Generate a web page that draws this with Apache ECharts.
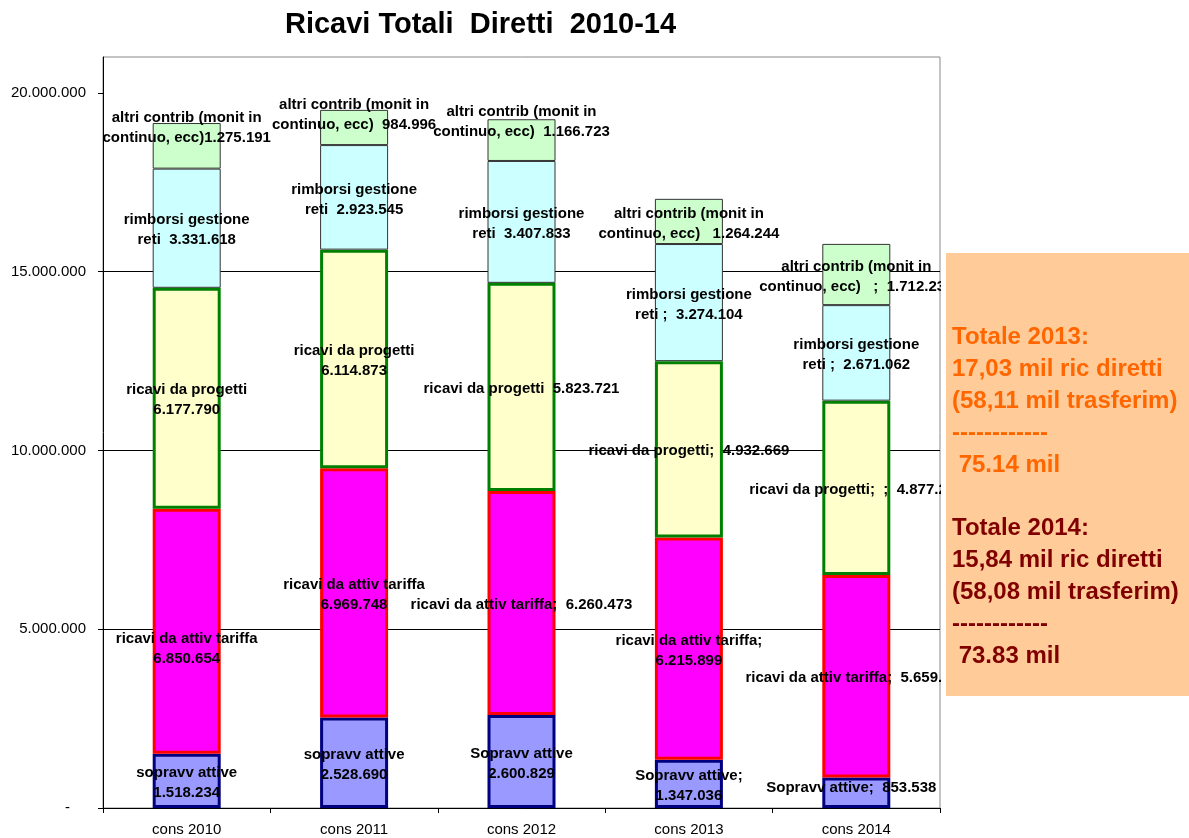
<!DOCTYPE html>
<html>
<head>
<meta charset="utf-8">
<script src="https://cdn.jsdelivr.net/npm/echarts@6/dist/echarts.min.js"></script>
<style>
  html, body { margin: 0; padding: 0; background: #fff; }
  #main { width: 1189px; height: 838px; }
</style>
</head>
<body>
<div id="main"></div>
<script>
const categories = ['cons 2010', 'cons 2011', 'cons 2012', 'cons 2013', 'cons 2014'];
const sopravvAttive = [1518234, 2528690, 2600829, 1347036, 853538];
const ricaviTariffa = [6850654, 6969748, 6260473, 6215899, 5659712];
const ricaviProgetti = [6177790, 6114873, 5823721, 4932669, 4877235];
const rimborsiReti = [3331618, 2923545, 3407833, 3274104, 2671062];
const altriContrib = [1275191, 984996, 1166723, 1264244, 1712235];
const yTicks = [0, 5000000, 10000000, 15000000, 20000000];

// testo etichette come nel foglio excel
const txtSopravv = ['sopravv attive\n', 'sopravv attive\n', 'Sopravv attive\n', 'Sopravv attive;\n', 'Sopravv attive;  '];
const txtTariffa = ['ricavi da attiv tariffa\n', 'ricavi da attiv tariffa\n', 'ricavi da attiv tariffa;  ', 'ricavi da attiv tariffa;\n', 'ricavi da attiv tariffa;  '];
const txtProgetti = ['ricavi da progetti\n', 'ricavi da progetti\n', 'ricavi da progetti  ', 'ricavi da progetti;  ', 'ricavi da progetti;  ;  '];
const txtRimborsi = ['rimborsi gestione\nreti  ', 'rimborsi gestione\nreti  ', 'rimborsi gestione\nreti  ', 'rimborsi gestione\nreti ;  ', 'rimborsi gestione\nreti ;  '];
const txtAltri = ['altri contrib (monit in\ncontinuo, ecc)', 'altri contrib (monit in\ncontinuo, ecc)  ', 'altri contrib (monit in\ncontinuo, ecc)  ', 'altri contrib (monit in\ncontinuo, ecc)   ', 'altri contrib (monit in\ncontinuo, ecc)   ;  '];

// spostamenti manuali delle etichette
const offSopravv = [[0, 2], [0, 2], [0, 2], [0, 2], [-5, -5]];
const offTariffa = [[0, 18], [0, 2], [0, 2], [0, 2], [0, 2]];
const offNone = [[0, 2], [0, 2], [0, 2], [0, 2], [0, 2]];
const offAltri = [[0, -18], [0, -13], [0, -18], [0, 2], [0, 2]];

const FONT = 'Liberation Sans, Arial, sans-serif';
const fmt = v => String(v).replace(/\B(?=(\d{3})+(?!\d))/g, '.');

function makeSeries(name, values, texts, offs, fill, border, bw) {
  return {
    name: name,
    type: 'bar',
    stack: 'tot',
    barWidth: 68,
    itemStyle: { color: fill, borderColor: border, borderWidth: bw },
    emphasis: { disabled: true },
    data: values.map((v, i) => ({ value: v, label: { offset: offs[i] } })),
    label: {
      show: true,
      position: 'inside',
      color: '#000',
      fontWeight: 'bold',
      fontSize: 15,
      fontFamily: FONT,
      lineHeight: 20,
      textBorderWidth: 0,
      formatter: p => texts[p.dataIndex] + fmt(p.value)
    }
  };
}

const chart = echarts.init(document.getElementById('main'));
chart.setOption({
  animation: false,
  backgroundColor: '#fff',
  grid: { left: 103, right: 249, top: 57, bottom: 30, show: true, borderColor: '#888', borderWidth: 1 },
  xAxis: {
    type: 'category',
    data: categories,
    axisLine: { lineStyle: { color: '#000', width: 1 } },
    axisTick: { show: true, length: 5, lineStyle: { color: '#000' } },
    axisLabel: { color: '#000', fontSize: 15, fontFamily: FONT, margin: 14 },
    splitLine: { show: false }
  },
  yAxis: {
    type: 'value',
    min: 0,
    max: 21000000,
    interval: 5000000,
    axisLine: { show: true, lineStyle: { color: '#000' } },
    axisTick: { show: true, length: 5, lineStyle: { color: '#000' }, customValues: yTicks },
    axisLabel: {
      customValues: yTicks,
      color: '#000', fontSize: 15, fontFamily: FONT, margin: 17,
      formatter: v => v === 0 ? '{d|-}' : fmt(v),
      rich: { d: { fontSize: 15, fontFamily: FONT, color: '#000', padding: [0, 16, 0, 0] } }
    },
    splitLine: { show: true, showMaxLine: false, lineStyle: { color: '#000', width: 1 } }
  },
  series: [
    makeSeries('sopravv attive', sopravvAttive, txtSopravv, offSopravv, '#9999FF', '#000080', 3),
    makeSeries('ricavi da attiv tariffa', ricaviTariffa, txtTariffa, offTariffa, '#FF00FF', '#FF0000', 3),
    makeSeries('ricavi da progetti', ricaviProgetti, txtProgetti, offNone, '#FFFFCC', '#008000', 3),
    makeSeries('rimborsi gestione reti', rimborsiReti, txtRimborsi, offNone, '#CCFFFF', '#333333', 1),
    makeSeries('altri contrib', altriContrib, txtAltri, offAltri, '#CCFFCC', '#333333', 1)
  ],
  graphic: [
    {
      type: 'text', x: 480.5, y: 25, z: 100,
      style: { text: 'Ricavi Totali  Diretti  2010-14', fill: '#000', font: 'bold 29px ' + FONT, textAlign: 'center', textVerticalAlign: 'middle' }
    },
    { type: 'rect', z: 100, shape: { x: 941, y: 245, width: 6, height: 460 }, style: { fill: '#fff' } },
    { type: 'rect', z: 101, shape: { x: 946, y: 253, width: 250, height: 443 }, style: { fill: '#FFCC99' } },
    {
      type: 'text', x: 952, y: 321.5, z: 102,
      style: {
        text: 'Totale 2013:\n17,03 mil ric diretti\n(58,11 mil trasferim)\n------------\n 75.14 mil',
        fill: '#FF6600', font: 'bold 24px ' + FONT, lineHeight: 32, textAlign: 'left', textVerticalAlign: 'top'
      }
    },
    {
      type: 'text', x: 952, y: 512.5, z: 102,
      style: {
        text: 'Totale 2014:\n15,84 mil ric diretti\n(58,08 mil trasferim)\n------------\n 73.83 mil',
        fill: '#800000', font: 'bold 24px ' + FONT, lineHeight: 32, textAlign: 'left', textVerticalAlign: 'top'
      }
    }
  ]
});
</script>
</body>
</html>
